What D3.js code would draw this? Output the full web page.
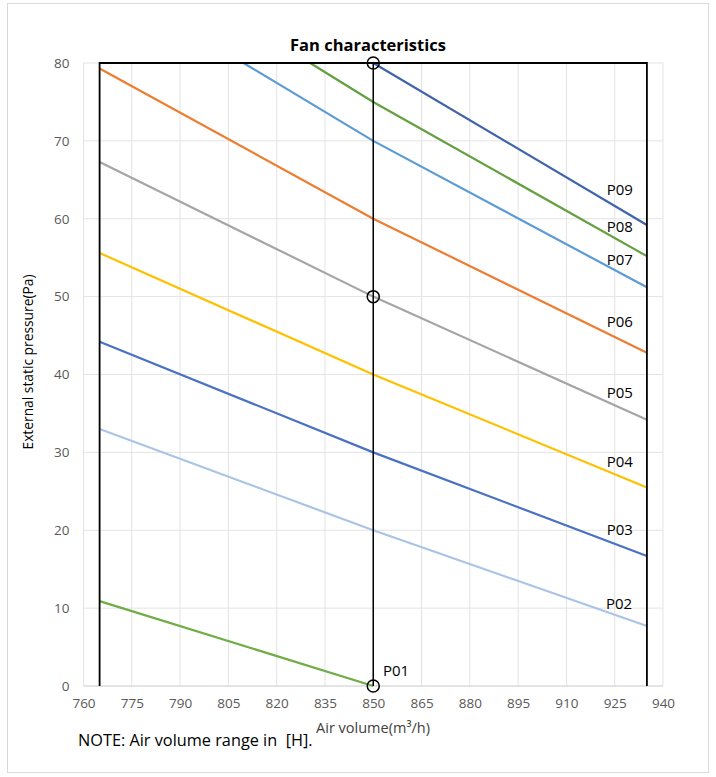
<!DOCTYPE html>
<html><head><meta charset="utf-8">
<script src="https://cdn.jsdelivr.net/npm/d3@7"></script>
<style>body{margin:0;background:#fff}svg{display:block}</style>
</head><body>
<script>
const title = "Fan characteristics";
const xLabel = "Air volume(m³/h)";
const yLabel = "External static pressure(Pa)";
const note = "NOTE: Air volume range in  [H].";
const xTicks = [760,775,790,805,820,835,850,865,880,895,910,925,940];
const yTicks = [0,10,20,30,40,50,60,70,80];
const seriesNames = ["P01","P02","P03","P04","P05","P06","P07","P08","P09"];
const seriesColors = ["#70ad47","#aac4e6","#4a72c4","#ffc000","#a5a5a5","#ed7d31","#5b9bd5","#65a040","#4063aa"];
const seriesX = [
  [765,850],[765,850,935],[765,850,935],[765,850,935],[765,850,935],
  [765,850,935],[809.7,850,935],[830.4,850,935],[850,935]
];
const seriesY = [
  [10.9,0],[33.0,20,7.7],[44.2,30,16.7],[55.6,40,25.5],[67.3,50,34.2],
  [79.3,60,42.8],[80,70,51.2],[80,75,55.2],[80,59.2]
];
const labelX = [853,922.3,922.5,922.5,922.5,922.5,922.5,922.5,922.5];
const labelY = [1.3,9.9,19.4,28.1,37.0,46.1,54.0,58.3,63.05];
const frameX = [765,765,935,935];
const frameY = [0,80,80,0];
const midX = [850,850];
const midY = [0,80];
const markerX = [850,850,850];
const markerY = [80,50,0];

const W=716,H=777;
const svg=d3.select("body").append("svg").attr("width",W).attr("height",H);
const font="'Open Sans',sans-serif";
svg.append("rect").attr("x",7.5).attr("y",3.5).attr("width",701).attr("height",769)
  .attr("fill","#fff").attr("stroke","#d9d9d9");
const x=d3.scaleLinear().domain([760,940]).range([83.5,663]);
const y=d3.scaleLinear().domain([0,80]).range([686,63]);

// gridlines
svg.append("g").selectAll("line").data(xTicks).join("line")
  .attr("x1",d=>x(d)).attr("x2",d=>x(d)).attr("y1",y(0)).attr("y2",y(80))
  .attr("stroke","#e3e3e3").attr("stroke-width",1);
svg.append("g").selectAll("line").data(yTicks).join("line")
  .attr("y1",d=>y(d)).attr("y2",d=>y(d)).attr("x1",x(760)).attr("x2",x(940))
  .attr("stroke",d=>d===0?"#c9c9c9":"#e3e3e3").attr("stroke-width",1);

// axes (labels only)
const xa=svg.append("g").attr("transform",`translate(0,${y(0)})`)
  .call(d3.axisBottom(x).tickValues(xTicks).tickSize(0).tickPadding(12));
xa.select(".domain").remove();
xa.selectAll("text").attr("font-family",font).attr("font-size",13.5).attr("fill","#595959");
const ya=svg.append("g").attr("transform",`translate(${x(760)},0)`)
  .call(d3.axisLeft(y).tickValues(yTicks).tickSize(0).tickPadding(14));
ya.select(".domain").remove();
ya.selectAll("text").attr("font-family",font).attr("font-size",13.5).attr("fill","#595959");

const line=d3.line().x(d=>x(d[0])).y(d=>y(d[1]));
// series
seriesNames.forEach((n,i)=>{
  const pts=seriesX[i].map((v,j)=>[v,seriesY[i][j]]);
  svg.append("path").attr("d",line(pts)).attr("fill","none")
    .attr("stroke",seriesColors[i]).attr("stroke-width",2.2);
});
// frame
svg.append("path").attr("d",line(frameX.map((v,j)=>[v,frameY[j]])))
  .attr("fill","none").attr("stroke","#000").attr("stroke-width",1.8);
svg.append("path").attr("d",line(midX.map((v,j)=>[v,midY[j]])))
  .attr("fill","none").attr("stroke","#000").attr("stroke-width",1.5);
svg.append("g").selectAll("circle").data(markerX).join("circle")
  .attr("cx",d=>x(d)).attr("cy",(d,i)=>y(markerY[i])).attr("r",6)
  .attr("fill","none").attr("stroke","#000").attr("stroke-width",1.5);

// series labels
svg.append("g").selectAll("text").data(seriesNames).join("text")
  .attr("x",(d,i)=>x(labelX[i])).attr("y",(d,i)=>y(labelY[i]))
  .attr("text-anchor","start").attr("font-family",font).attr("font-size",15)
  .attr("fill","#000").text(d=>d);

svg.append("text").attr("x",368).attr("y",51).attr("text-anchor","middle")
  .attr("font-family",font).attr("font-size",16.5).attr("font-weight","bold").text(title);
svg.append("text").attr("x",373).attr("y",733).attr("text-anchor","middle")
  .attr("font-family",font).attr("font-size",14.5).attr("fill","#404040").text(xLabel);
svg.append("text").attr("transform",`translate(33,362) rotate(-90)`)
  .attr("text-anchor","middle").attr("font-family",font).attr("font-size",13.8)
  .attr("fill","#000").text(yLabel);
svg.append("text").attr("x",78).attr("y",746).attr("font-family",font)
  .attr("font-size",16.3).attr("fill","#000").style("white-space","pre").text(note);
</script>
</body></html>
